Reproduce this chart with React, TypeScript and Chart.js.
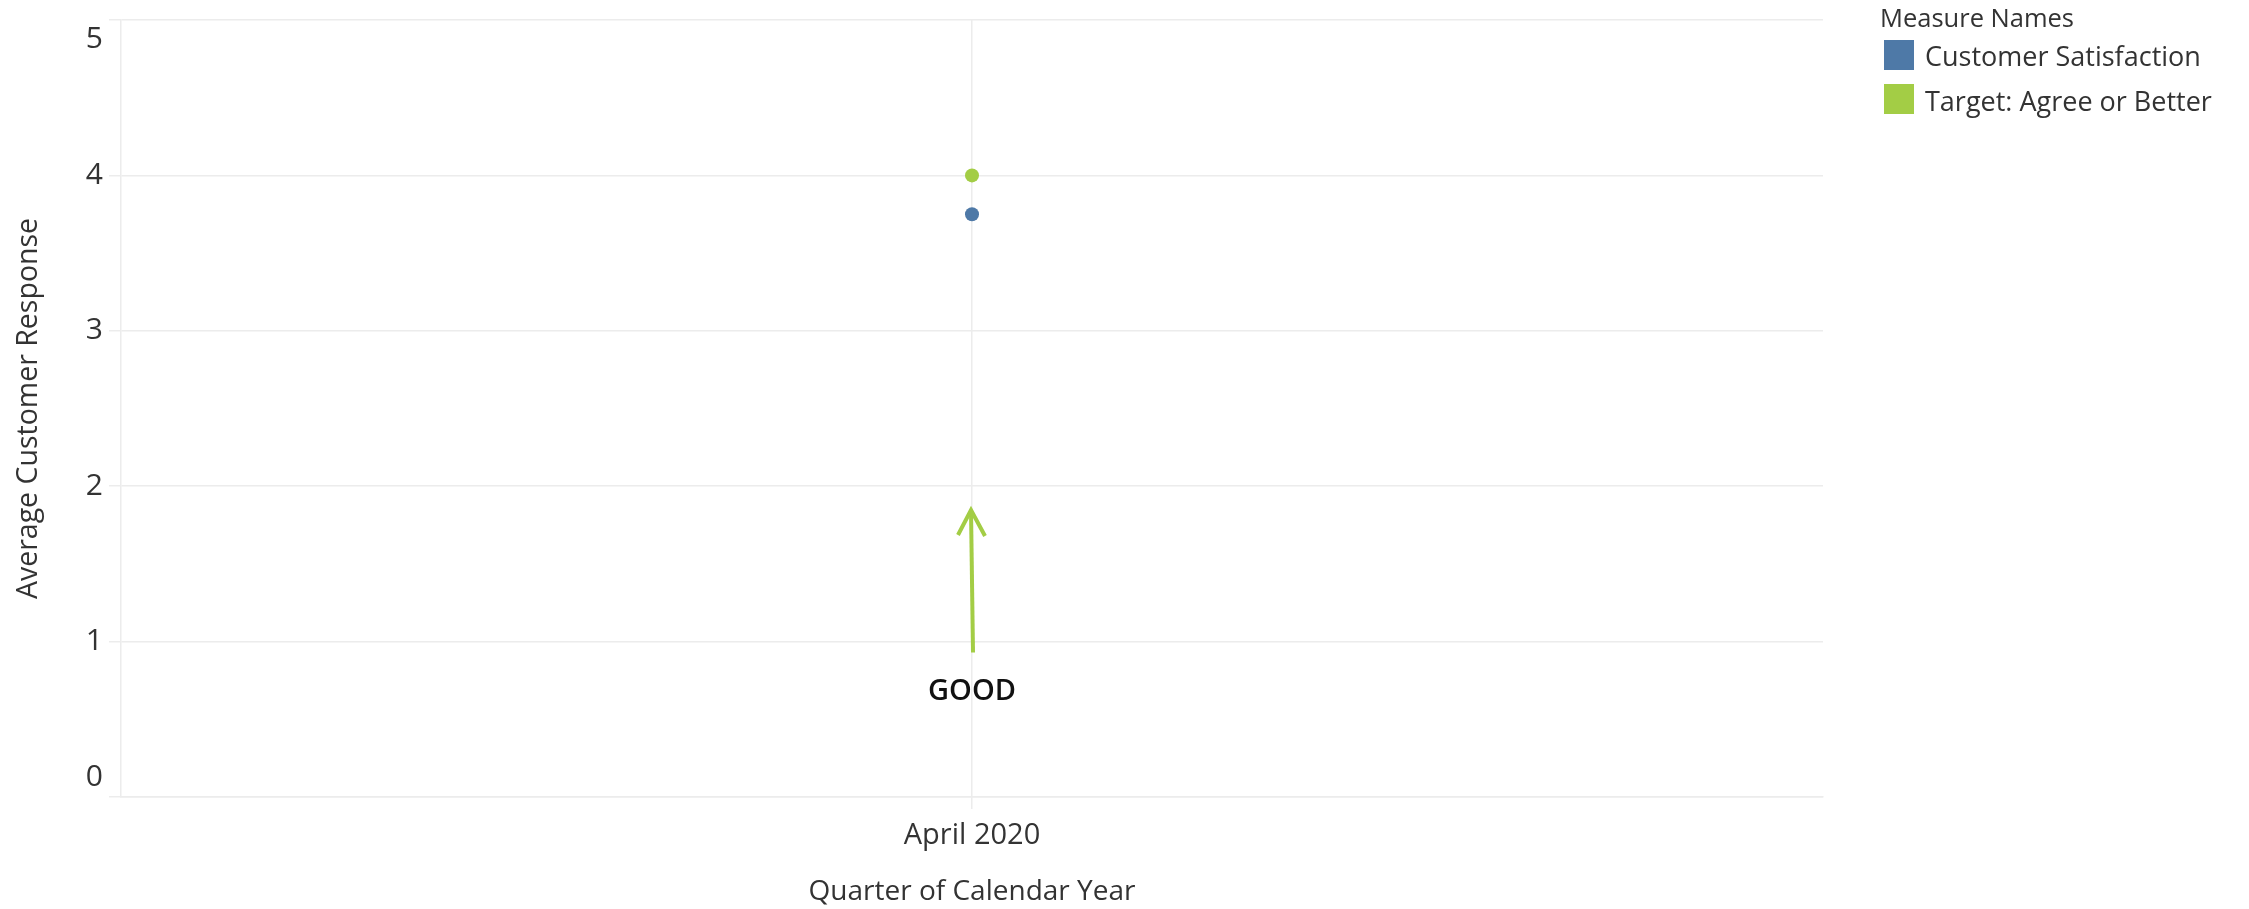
import React, { useEffect, useRef } from "react";
import { Chart, registerables } from "chart.js";

Chart.register(...registerables);

const categories = ["April 2020"];
const customerSatisfaction = [3.75];
const targetAgreeOrBetter = [4.0];
const yTickValues = [0, 1, 2, 3, 4, 5];
const arrowValues = [0.93, 1.86]; // arrow tail, arrow tip (in y units)
const goodLabelValue = 0.68;
const goodLabel = "GOOD";
const legendTitle = "Measure Names";
const seriesNames = ["Customer Satisfaction", "Target: Agree or Better"];
const seriesColors = ["#4e79a7", "#a3cd45"];

const FONT = "'Open Sans', 'Noto Sans', sans-serif";

const annotationPlugin = {
  id: "goodArrow",
  afterDatasetsDraw(chart: any) {
    const { ctx, scales } = chart;
    const x = scales.x.getPixelForValue(0);
    const yTail = scales.y.getPixelForValue(arrowValues[0]);
    const yTip = scales.y.getPixelForValue(arrowValues[1]);
    ctx.save();
    ctx.strokeStyle = seriesColors[1];
    ctx.lineWidth = 4;
    ctx.lineCap = "butt";
    ctx.lineJoin = "miter";
    ctx.beginPath();
    ctx.moveTo(x + 1, yTail);
    ctx.lineTo(x - 1, yTip + 2);
    ctx.stroke();
    ctx.beginPath();
    ctx.moveTo(x - 14, yTip + 27);
    ctx.lineTo(x - 1, yTip + 2);
    ctx.lineTo(x + 13, yTip + 28);
    ctx.stroke();
    const yText = scales.y.getPixelForValue(goodLabelValue);
    ctx.fillStyle = "#111";
    ctx.font = `600 29px ${FONT}`;
    ctx.textAlign = "center";
    ctx.textBaseline = "middle";
    ctx.fillText(goodLabel, x, yText);
    ctx.restore();
  },
};

export default function App() {
  const canvasRef = useRef<HTMLCanvasElement | null>(null);

  useEffect(() => {
    if (!canvasRef.current) return;
    const gridColor = "#ececec";
    const yMin = yTickValues[0];
    const yMax = yTickValues[yTickValues.length - 1];
    const chart = new Chart(canvasRef.current, {
      type: "line",
      data: {
        labels: categories,
        datasets: [
          {
            label: seriesNames[0],
            data: customerSatisfaction,
            backgroundColor: seriesColors[0],
            borderColor: seriesColors[0],
            pointRadius: 7,
            pointBorderWidth: 0,
            showLine: false,
          },
          {
            label: seriesNames[1],
            data: targetAgreeOrBetter,
            backgroundColor: seriesColors[1],
            borderColor: seriesColors[1],
            pointRadius: 7,
            pointBorderWidth: 0,
            showLine: false,
          },
        ],
      },
      options: {
        responsive: false,
        animation: false,
        devicePixelRatio: 1,
        layout: { padding: { top: 20, right: 426, left: 0, bottom: 0 } },
        plugins: {
          legend: { display: false },
          tooltip: { enabled: false },
        },
        scales: {
          x: {
            type: "category",
            offset: true,
            grid: { color: gridColor, lineWidth: 1.5, tickLength: 12 },
            border: { color: gridColor, width: 1.5 },
            ticks: {
              font: { family: FONT, size: 29 },
              color: "#333",
              padding: 9,
              maxRotation: 0,
            },
            title: {
              display: true,
              text: "Quarter of Calendar Year",
              font: { family: FONT, size: 28 },
              color: "#333",
              padding: { top: 0, bottom: 0 },
            },
            afterFit: (s: any) => {
              s.height = 112;
            },
          },
          y: {
            min: yMin,
            max: yMax,
            afterBuildTicks: (s: any) => {
              s.ticks = yTickValues.map((v) => ({ value: v }));
            },
            grid: { color: gridColor, lineWidth: 1.5, tickLength: 12 },
            border: { color: gridColor, width: 1.5 },
            ticks: {
              font: { family: FONT, size: 30, lineHeight: 1.33 },
              color: "#333",
              padding: 6,
              callback: (v: any) => {
                const s = String(v);
                if (v === yMax) return ["", s];
                if (v === yMin) return [s, ""];
                return s;
              },
            },
            title: {
              display: true,
              text: "Average Customer Response",
              font: { family: FONT, size: 28.5 },
              color: "#333",
              padding: { top: 12, bottom: 0 },
            },
            afterFit: (s: any) => {
              s.width = 121;
              s.paddingTop = 0;
              s.paddingBottom = 0;
            },
          },
        },
      },
      plugins: [annotationPlugin],
    });
    return () => chart.destroy();
  }, []);

  const legendText: React.CSSProperties = {
    position: "absolute",
    fontFamily: FONT,
    fontSize: 27,
    lineHeight: "34px",
    color: "#333",
    whiteSpace: "nowrap",
  };

  return (
    <div
      style={{
        position: "absolute",
        left: 0,
        top: 0,
        width: 2249,
        height: 909,
        background: "#fff",
      }}
    >
      <canvas
        ref={canvasRef}
        width={2249}
        height={909}
        style={{ position: "absolute", left: 0, top: 0, width: 2249, height: 909 }}
      />
      <div style={{ ...legendText, fontSize: 25.5, left: 1880, top: 0 }}>{legendTitle}</div>
      {seriesNames.map((name, i) => (
        <React.Fragment key={name}>
          <div
            style={{
              position: "absolute",
              left: 1884,
              top: 40 + i * 44,
              width: 30,
              height: 30,
              background: seriesColors[i],
            }}
          />
          <div style={{ ...legendText, left: 1925, top: 39 + i * 45 }}>{name}</div>
        </React.Fragment>
      ))}
    </div>
  );
}
